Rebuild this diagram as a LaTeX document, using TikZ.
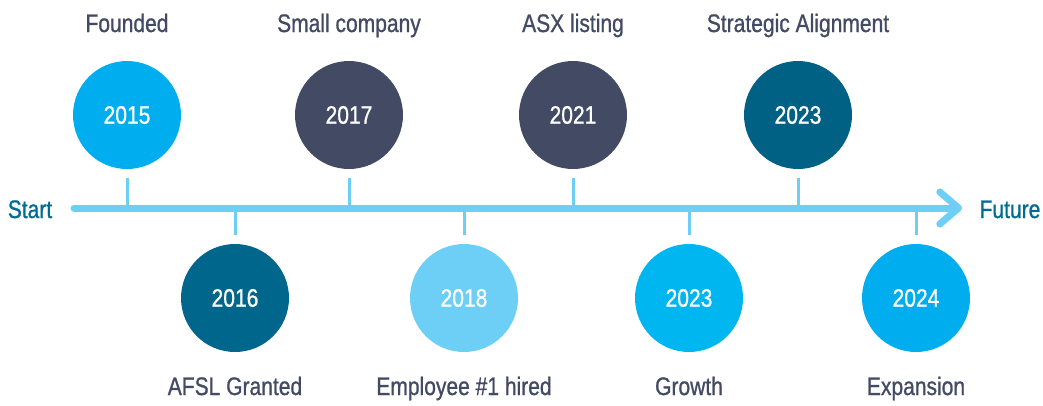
\documentclass[tikz,border=0pt]{standalone}
\usepackage{fontspec}
\setmainfont{Liberation Sans}[FakeStretch=0.83,FakeBold=0.9]
\usetikzlibrary{arrows.meta}
\definecolor{skyblue}{HTML}{00AEEF}
\definecolor{paleblue}{HTML}{6DCFF6}
\definecolor{slate}{HTML}{434A63}
\definecolor{deepteal}{HTML}{00668C}
\definecolor{tealtext}{HTML}{006D8F}
\tikzset{
  year/.style={circle,fill=#1,inner sep=0pt,minimum size=81pt,text=white,font=\fontsize{19}{22}\selectfont},
  label/.style={anchor=base,text=slate,font=\fontsize{19}{22}\selectfont},
  endlabel/.style={anchor=base,text=tealtext,font=\fontsize{19}{22}\selectfont},
  tick/.style={paleblue,line width=2.25pt},
  axis/.style={paleblue,line width=5.25pt,line cap=round}
}
\begin{document}
\begin{tikzpicture}[x=0.75pt,y=0.75pt]
\useasboundingbox (0,0) rectangle (1043,405);
% the axis
\node[endlabel] (start) at (30,187) {Start};
\node[endlabel] (future) at (1010,187) {Future};
\coordinate (tail) at (74,197);
\coordinate (head) at (962,197);
\draw[axis,-{Straight Barb[length=14pt,width=24pt,line cap=round,line join=round]}] (tail) -- (head);
% years above the axis
\node[year=skyblue] (y2015) at (127,290) {2015};
\node[year=slate] (y2017) at (349,290) {2017};
\node[year=slate] (y2021) at (573,290) {2021};
\node[year=deepteal!95!black] (y2023a) at (798,290) {2023};
\node[label] (founded) at (127,373) {Founded};
\node[label] (small) at (349,373) {Small company};
\node[label] (asx) at (573,373) {ASX listing};
\node[label] (align) at (798,373) {Strategic Alignment};
% years below the axis
\node[year=deepteal] (y2016) at (235,107) {2016};
\node[year=paleblue] (y2018) at (464,107) {2018};
\node[year=skyblue!90!cyan] (y2023b) at (689,107) {2023};
\node[year=skyblue] (y2024) at (916,107) {2024};
\node[label] (afsl) at (235,10) {AFSL Granted};
\node[label] (hired) at (464,10) {Employee \#1 hired};
\node[label] (growth) at (689,10) {Growth};
\node[label] (expansion) at (916,10) {Expansion};
% ticks
\foreach \y in {y2015,y2017,y2021,y2023a}
  \draw[tick] ([yshift=-6.75pt]\y.south) -- (\y |- tail);
\foreach \y in {y2016,y2018,y2023b,y2024}
  \draw[tick] ([yshift=6.75pt]\y.north) -- (\y |- tail);
\end{tikzpicture}
\end{document}
